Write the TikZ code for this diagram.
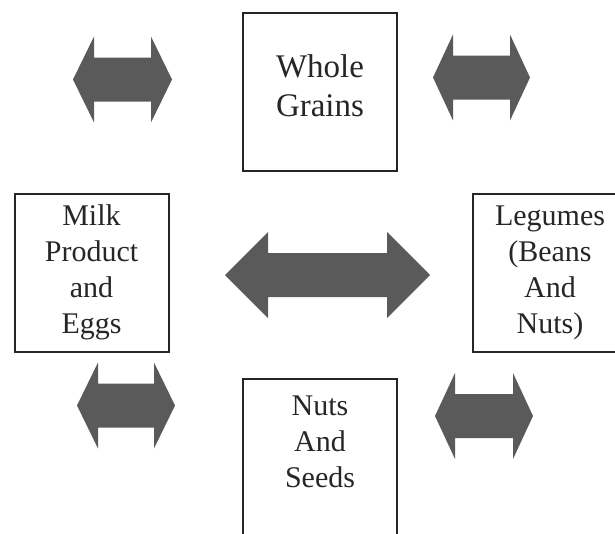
\documentclass[tikz,border=0pt]{standalone}
\usepackage{fontspec}
\setmainfont{Liberation Serif}
\usetikzlibrary{positioning}
\definecolor{ink}      {HTML}{262626}
\definecolor{arrowgray}{HTML}{5A5A5A}
\tikzset{
  box/.style      = {draw=ink, line width=2pt,
                     minimum width=154pt, minimum height=158pt,
                     text width=140pt, align=center, inner sep=0pt,
                     font=\fontsize{30}{36}\selectfont, text=ink},
  bigbox/.style   = {box, font=\fontsize{33}{39}\selectfont},
  openbox/.style  = {box, anchor=north, inner ysep=17pt, text depth=150pt},
  blockarr/.style = {fill=arrowgray},
}
\begin{document}
\begin{tikzpicture}[x=1pt, y=-1pt]
  \useasboundingbox (0,0) rectangle (615,533);
  \clip (0,0) rectangle (615,533);

  % food groups
  \node[bigbox, text depth=51pt] (grains)  at (320,91.5)  {Whole\\Grains};
  \node[box]                     (milk)    at (91.5,272.5) {Milk\\Product\\and\\Eggs};
  \node[box]                     (legumes) at (550,272.5) {Legumes\\(Beans\\And\\Nuts)};
  \node[openbox]                 (seeds)   at (320,378)   {Nuts\\And\\Seeds};

  % double block arrows: centre x / centre y / half length / head length
  \foreach \cx/\cy/\len/\hd in {122.5/79.5/49.5/21, 481.5/77.5/48.5/20,
                                126/405.5/49/21, 484/416/49/20,
                                327.5/275/102.5/43}
    \fill[blockarr] ({\cx-\len},\cy) -- ++(\hd,-43) -- ++(0,21)
      -- ({\cx+\len-\hd},{\cy-22}) -- ++(0,-21) -- ({\cx+\len},\cy)
      -- ++(-\hd,43) -- ++(0,-21) -- ({\cx-\len+\hd},{\cy+22})
      -- ++(0,21) -- cycle;
\end{tikzpicture}
\end{document}
